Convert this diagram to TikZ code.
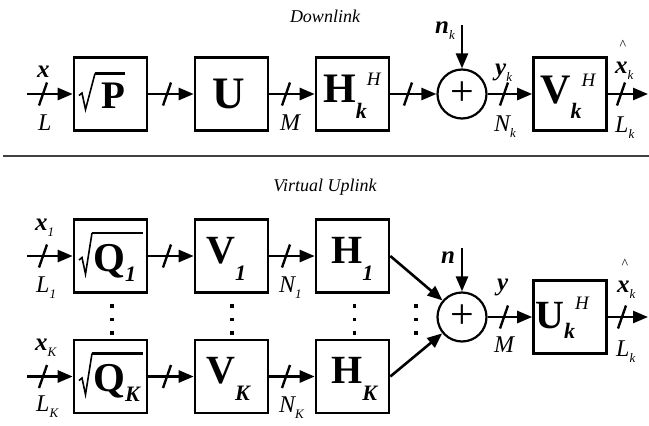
\documentclass[tikz,border=0pt]{standalone}
\usepackage{fontspec}
\setmainfont{Liberation Serif}
\usetikzlibrary{arrows.meta,calc}
\newcommand\fs[1]{\fontsize{#1}{#1}\selectfont}
\newcommand\vx[1]{{\fs{25}\bfseries\itshape #1}}
\newcommand\lt[1]{{\fs{24}\itshape #1}}
\newcommand\ls[1]{\raisebox{-6pt}{\fs{13}\itshape #1}}
\newcommand\mB[2]{{\fs{#1}\bfseries #2}}
\newcommand\sB[2]{\raisebox{-#1}{\fs{22}\bfseries\itshape #2}}
\newcommand\pH[1]{\raisebox{#1}{\fs{19}\mdseries\itshape H}}
\tikzset{
  box/.style={draw, line width=2.6pt, minimum size=73pt, inner sep=0},
  sumnode/.style={draw, circle, line width=2.2pt, minimum size=49pt, inner sep=0, font=\fs{42}},
  arr/.style={line width=2.6pt, -{Triangle[length=15pt,width=12pt]}},
  slashm/.style={line width=2.4pt},
  lbl/.style={inner sep=0, anchor=base west},
  hatn/.style={inner sep=0, font=\fs{14}},
  rad/.style={line width=1.6pt, line join=miter},
  vinc/.style={line width=2.6pt},
  sepline/.style={line width=1.4pt, draw=black!75},
  title/.style={inner sep=0, font=\fs{18}\itshape}
}
\begin{document}
\begin{tikzpicture}[x=1pt,y=-1pt]
\useasboundingbox (0,0) rectangle (649,426);
% titles and separator
\node[title] (dl) at (325,16) {Downlink};
\node[title] (vu) at (325,187) {Virtual Uplink};
\coordinate (sepL) at (3,156);
\coordinate (sepR) at (649,156);
\draw[sepline] (sepL) -- (sepR);
% ---------------- Downlink ----------------
\node[box] (p) at (110.5,94) {};
\node[box] (u) at (231.5,94) {};
\node[box] (h) at (352.5,94) {};
\node[sumnode] (sT) at (462,94) {+};
\node[box] (v) at (570,94) {};
\coordinate (inT) at (27,94);
\coordinate (outT) at (648,94);
\coordinate (nkTop) at (462,25);
\draw[arr] (inT) -- (p);
\draw[arr] (p) -- (u);
\draw[arr] (u) -- (h);
\draw[arr] (h) -- (sT);
\draw[arr] (sT) -- (v);
\draw[arr] (v) -- (outT);
\draw[arr] (nkTop) -- (sT);
% radical P
\draw[rad] ($(p)+(-31.5,1.5)$) -- ($(p)+(-28.5,-1)$) -- ($(p)+(-25,15.5)$) -- ($(p)+(-15.5,-20.5)$);
\draw[vinc] ($(p)+(-15.5,-20.5)$) -- ($(p)+(14.5,-20.5)$);
\node[lbl] (pL) at (101,108) {\mB{39}{P}};
\node[lbl] (uL) at (212,108) {\mB{45}{U}};
\node[lbl] (hL) at (323,102) {\mB{42}{H}\sB{16pt}{k}\pH{17pt}};
\node[lbl] (vL) at (540,103) {\mB{42}{V}\sB{15pt}{k}\pH{17pt}};
% labels
\node[lbl] (xT) at (37,77) {\vx{x}};
\node[lbl] (LT) at (38,130) {\lt{L}};
\node[lbl] (MT) at (280,130) {\lt{M}};
\node[lbl] (nkT) at (435,33) {\vx{n}\ls{k}};
\node[lbl] (ykT) at (495,75) {\vx{y}\ls{k}};
\node[lbl] (NkT) at (494,131) {\lt{N}\ls{k}};
\node[lbl] (xhT) at (615,73) {\vx{x}\ls{k}};
\node[hatn] (hatT) at (623,45) {\textasciicircum};
\node[lbl] (LkT) at (615,132) {\lt{L}\ls{k}};
% ---------------- Virtual Uplink ----------------
\node[box] (q1) at (110.5,256) {};
\node[box] (v1) at (231.5,256) {};
\node[box] (h1) at (352.5,256) {};
\node[box] (qK) at (110.5,376.5) {};
\node[box] (vK) at (231.5,376.5) {};
\node[box] (hK) at (352.5,376.5) {};
\node[sumnode] (sB) at (462,317) {+};
\node[box] (uk) at (570,317) {};
\coordinate (in1) at (27,256);
\coordinate (inK) at (27,376.5);
\coordinate (outB) at (648,317);
\coordinate (nTop) at (462,248);
\draw[arr] (in1) -- (q1);
\draw[arr] (q1) -- (v1);
\draw[arr] (v1) -- (h1);
\draw[arr] (inK) -- (qK);
\draw[arr] (qK) -- (vK);
\draw[arr] (vK) -- (hK);
\draw[arr] (h1.east) -- (sB);
\draw[arr] (hK.east) -- (sB);
\draw[arr] (nTop) -- (sB);
\draw[arr] (sB) -- (uk);
\draw[arr] (uk) -- (outB);
% radicals Q
\draw[rad] ($(q1)+(-31.5,4)$) -- ($(q1)+(-28.5,1.5)$) -- ($(q1)+(-25,18)$) -- ($(q1)+(-18.5,-23)$);
\draw[vinc] ($(q1)+(-18.5,-23)$) -- ($(q1)+(32.5,-23)$);
\draw[rad] ($(qK)+(-31.5,4)$) -- ($(qK)+(-28.5,1.5)$) -- ($(qK)+(-25,18)$) -- ($(qK)+(-18.5,-23)$);
\draw[vinc] ($(qK)+(-18.5,-23)$) -- ($(qK)+(32.5,-23)$);
\node[lbl] (q1L) at (93,271) {\mB{41}{Q}\sB{10pt}{1}};
\node[lbl] (qKL) at (93,391.5) {\mB{41}{Q}\sB{10pt}{K}};
\node[lbl] (v1L) at (206,263) {\mB{40}{V}\sB{17pt}{1}};
\node[lbl] (vKL) at (206,383.5) {\mB{40}{V}\sB{17pt}{K}};
\node[lbl] (h1L) at (331,263) {\mB{40}{H}\sB{17pt}{1}};
\node[lbl] (hKL) at (331,383.5) {\mB{40}{H}\sB{17pt}{K}};
\node[lbl] (ukL) at (535,328) {\mB{40}{U}\sB{10pt}{k}\pH{19pt}};
% labels
\node[lbl] (x1B) at (35,230) {\vx{x}\ls{1}};
\node[lbl] (L1B) at (36,292) {\lt{L}\ls{1}};
\node[lbl] (xKB) at (35,350) {\vx{x}\ls{K}};
\node[lbl] (LKB) at (36,411) {\lt{L}\ls{K}};
\node[lbl] (N1B) at (279,292) {\lt{N}\ls{1}};
\node[lbl] (NKB) at (279,412) {\lt{N}\ls{K}};
\node[lbl] (nB) at (441,263) {\vx{n}};
\node[lbl] (yB) at (497,290) {\vx{y}};
\node[lbl] (MB) at (494,352) {\lt{M}};
\node[lbl] (xhB) at (617,292) {\vx{x}\ls{k}};
\node[hatn] (hatB) at (625,264) {\textasciicircum};
\node[lbl] (LkB) at (616,356) {\lt{L}\ls{k}};
% slash marks on bus connectors
\foreach \sx/\sy in {43/94,167/94,286/94,408/94,504/94,621/94,
                     43/256,167/256,286/256,43/376.5,167/376.5,286/376.5,
                     504/317,622/317}
  \draw[slashm] (\sx-4,\sy+11.5) -- (\sx+4,\sy-11.5);
% vertical ellipsis dots
\foreach \dx in {112,232,354.5,416}
  \foreach \dy in {306,319.5,333}
    \fill (\dx-1.6,\dy-1.6) rectangle ++(3.2,3.2);
\end{tikzpicture}
\end{document}
